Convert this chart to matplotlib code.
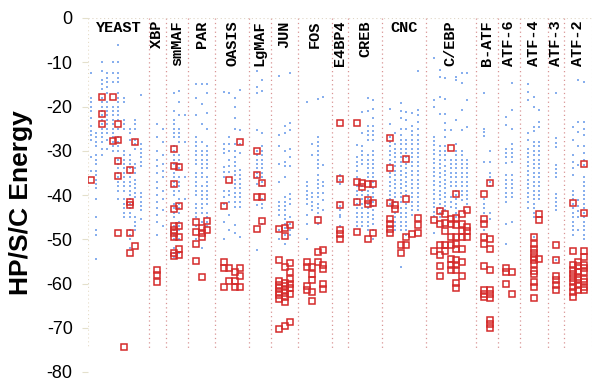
import matplotlib.pyplot as plt

# families along x, with the number of sequence columns each one takes
families = ["YEAST", "XBP", "smMAF", "PAR", "OASIS", "LgMAF", "JUN", "FOS",
            "E4BP4", "CREB", "CNC", "C/EBP", "B-ATF", "ATF-6", "ATF-4",
            "ATF-3", "ATF-2"]
slots = [11, 3, 4, 5, 6, 4, 5, 6, 3, 6, 8, 9, 4, 4, 5, 3, 5]
flat_labels = ["YEAST", "CNC"]
yticks = [0, -10, -20, -30, -40, -50, -60, -70, -80]

# HP/S/C energies, one list per sequence column
yeast_blue = [
    [-12.5, -18, -19, -20, -21, -22.5, -24.5, -25.5, -26.5, -27.5, -31.5, -34.5],
    [-26, -27, -28, -29, -31, -32, -33, -34.5, -35.5, -36.5, -37.5, -38.5, -41, -45, -48, -49, -54.5],
    [-10, -12, -14, -15, -16, -18, -19, -20, -21, -22, -23, -24, -25, -26, -27, -28, -29.5, -31],
    [-12.5, -13.5, -14.5, -15.5, -17, -19, -20, -21, -22, -23, -24, -25, -26, -27.5, -29.5],
    [-10, -12.5, -14.5, -20, -21, -22, -23, -24, -25, -26, -27, -28, -29, -30],
    [-6, -10, -12.5, -13.5, -14.5, -17, -18, -19, -20, -21, -22, -23, -25, -27, -28, -29, -30,
     -32, -33, -34, -35, -36, -37, -38, -39, -41],
    [-18, -19, -23, -24, -25, -30, -31, -32, -33, -34, -35, -36, -37, -38, -39, -41, -42, -43, -44, -45],
    [-25, -26, -27.5, -31, -32, -33, -34, -35, -36, -37, -38, -39, -40, -41, -42, -43, -44, -45,
     -48, -49, -50, -52],
    [-23, -24, -25, -27.5, -28.5, -29.5, -33, -34, -35, -36.5, -37.5, -38.5, -39.5, -40.5, -45, -46, -47, -48],
    [-17.5, -28.5, -29.5, -30.5, -31.5, -32.5, -33.5, -39.5, -40.5, -41.5, -42.5, -43.5, -45.5],
    [],
]
yeast_red = [[-36.7], [], [-17.8, -21.6, -24], [], [-17.8, -27.8],
             [-24, -27.6, -32.3, -35.7, -48.7], [-74.4],
             [-34.4, -41.5, -42.2, -48.7, -53.1], [-28.1, -51.6], [], []]

xbp_blue = [[],
            [-24, -27, -30, -32, -33.5, -35, -37, -38.5, -40, -41.5, -43, -44.5, -46, -49],
            [-25, -28, -31, -33, -34.5, -36, -39, -41, -43.5, -47]]
xbp_red = [[], [-57, -58.1, -59.7], []]

smmaf_blue = [[],
              [-17, -21, -23, -24, -25, -26, -27, -29, -30, -31, -32, -33, -35, -36, -37, -38, -39, -40,
               -42, -43, -44, -45, -47, -48, -49, -50, -52, -53, -54],
              [-16.5, -19, -22, -25, -26, -27, -28, -31, -32, -33, -34, -36, -37, -38, -39, -41, -42,
               -43, -44, -46, -47, -48, -50, -53],
              [-22, -28, -36, -41]]
smmaf_red = [[], [-29.6, -33.5, -37.6, -43.2, -47, -47.8, -48.6, -49.5, -53, -53.8],
             [-33.7, -42.5, -47.1, -49.4, -52.1, -53.6], []]

par_blue = [[],
            [-15, -18, -22, -27, -28, -29, -30, -31, -32, -33, -35, -36, -37, -38, -39, -40, -42, -43,
             -44, -45, -47, -50],
            [-15, -19.5, -24, -28, -30, -31, -32, -33, -34, -35, -36, -38, -39, -40, -41, -42, -43,
             -44, -46, -52],
            [-15, -17, -21.5, -25, -29, -30, -31, -32, -33, -34, -36, -37, -38, -39, -40, -41, -42,
             -44, -45, -46, -47],
            []]
par_red = [[], [-46, -48.4, -51, -55], [-47.5, -48.6, -49.6, -58.5], [-45.8, -47.9], []]

oasis_blue = [[],
              [-16.7, -28.4, -29.5, -30.6, -33.7, -34.8, -35.9, -39, -40.5, -42, -46, -50],
              [-17, -26.8, -28.5, -30, -32.2, -33.5, -34.8, -39, -40, -41.5, -44.6, -48],
              [-18, -20, -22.7, -25, -28.4, -30, -31.5, -32.5, -33.5, -34.5, -35.5, -36.5, -37.5,
               -38.5, -39.5, -40.5, -41.5, -42.7, -46.8, -48.7],
              [-16.3, -25.4, -28.4, -30.6, -34.4, -35.4, -36.4, -37.5, -38.5, -39.5, -40.5, -41.5,
               -42.7, -49.5],
              []]
oasis_red = [[], [-42.5, -55.2, -56.5, -60.9], [-36.7, -56.5, -59.4], [-57.3, -59.5, -60.9],
             [-28, -56.5, -58.2, -60.9], []]

lgmaf_blue = [[],
              [-12, -15.5, -17, -25.4, -30, -31, -32, -33, -34, -35, -36, -37.5, -42.3, -52.5],
              [-14, -16.5, -26, -29, -30, -31, -32, -33, -34, -35, -36, -37, -38, -41, -42, -43, -46.5],
              []]
lgmaf_red = [[], [-30, -35.4, -40.4, -47.6], [-37.4, -40.4, -45.9], []]

jun_blue = [[],
            [-13, -26.5, -29, -33, -37, -41.5, -42.5, -43.5, -44.5, -48, -50],
            [-24.5, -26, -30, -32.5, -33.5, -36, -40.5, -41.5, -42.5, -43.5, -44.5, -45.5, -46.5,
             -47.5, -49, -51],
            [-12.5, -23.8, -25.3, -29.5, -31.5, -33.5, -39.8, -41, -42, -45, -46.5, -48, -49],
            []]
jun_red = [[],
           [-47.6, -54.7, -59.5, -60.3, -61.1, -61.9, -62.7, -63.5, -70.3],
           [-47.5, -49.2, -56.3, -59.8, -60.6, -61.4, -62.2, -63, -64.2, -69.6],
           [-46.8, -55.3, -57.5, -59, -60, -61, -62.4, -68.6],
           []]

fos_blue = [[],
            [-19, -37, -38, -39, -40, -41, -42, -44.5, -46.5, -50],
            [-28.4, -31, -39.5, -40.5, -41.5, -42.5, -43.5],
            [-18.2, -27, -28, -29, -30, -31, -32, -33, -34, -35.5, -36.5, -37.5, -38.5, -39.5, -40.5,
             -42, -43, -44, -45, -46.5],
            [-17.8, -33.3, -37, -38, -39.5, -41.2, -43.5],
            []]
fos_red = [[], [-55.2, -56.3, -60.5, -61.4], [-56.3, -57.8, -59.3, -62, -64], [-45.7, -52.9, -55.2],
           [-52.5, -55.9, -56.7, -60.1, -61.2], []]

e4bp4_blue = [[], [-35.5, -36.5, -37.5, -41.5, -42.5, -43.5, -44.5, -45, -47], []]
e4bp4_red = [[], [-23.8, -36.4, -42.3, -48, -48.9, -49.9], []]

creb_blue = [[],
             [-28.7, -31.5, -32.5, -33.5, -34.5, -35.9, -38, -39, -40, -41, -42, -43, -44, -45, -46, -47],
             [-21.2, -26, -29, -30, -31, -32, -33, -38, -39, -40, -41, -42, -43, -44, -45, -46, -47],
             [-18, -21, -24.5, -25.5, -26.5, -27.5, -31, -32, -33, -34, -35, -36, -39, -40, -41, -42,
              -43, -44, -45, -46, -47, -48],
             [-18.5, -20.5, -22.5, -24.5, -25.5, -26.5, -27.5, -30, -31, -32, -33, -34, -35, -36, -37,
              -38.5, -39.5, -40.5, -41.5, -42.5, -43.5, -44.5, -45.5, -46.5, -48, -50],
             []]
creb_red = [[], [-23.7, -37, -41.6, -48.4], [-37.3, -38.2], [-37.6, -41.2, -42, -49.9],
            [-37.6, -41.8, -48.6], []]

cnc_blue = [[],
            [-20.5, -24, -27, -28, -29, -30, -31, -32, -33, -35, -36, -37, -38, -39, -40, -41, -42],
            [-26, -28.5, -29.5, -30.5, -31.5, -32.5, -33.5, -34.5, -35.5, -36.5, -37.5, -38.5, -39.5,
             -40.5, -41.5, -44, -45, -46, -47, -48],
            [-19.3, -21, -22.5, -25, -26.5, -27.5, -28.5, -29.5, -30.5, -31.5, -32.5, -33.5, -34.5,
             -35.5, -36.5, -37.5, -38.5, -39.5, -40.5, -41.5, -43, -44, -45, -46, -47, -48, -56.3],
            [-21.2, -23, -25, -27.5, -28.5, -29.5, -30.5, -31.5, -33, -34, -35, -36, -37, -38, -39,
             -40, -42, -43, -44, -45, -46, -47, -48, -49],
            [-21.5, -24.5, -25.5, -26.5, -27.5, -28.5, -29.5, -30.5, -31.5, -32.5, -33.5, -34.5,
             -35.5, -36.5, -37.5, -38.5, -39.5, -40.5, -41.5, -42.5, -43.5, -44.5],
            [-12, -20.7, -22, -23.5, -25, -26.5, -27.5, -28.5, -29.5, -30.5, -31.5, -32.5, -33.5,
             -34.5, -35.5, -36.5, -37.5, -38.5, -39.5, -40.5, -41.5, -42.5, -43.5],
            []]
cnc_red = [[], [-27.2, -34, -41.9, -45.5, -46.5, -47.6, -48.7], [-42.3, -43.1], [-51.2, -53.2],
           [-31.8, -41, -49.5, -51.2], [-48.9], [-45.3, -46.8, -48.7], []]

cebp_blue = [[],
             [-9, -18.5, -20, -26.8, -27.8, -28.8, -29.8, -30.8, -31.8, -32.8, -33.8, -34.8, -35.8,
              -36.8, -37.8, -38.8, -39.8, -40.8, -41.8, -42.8, -43.8, -44.8, -48.7],
             [-11.8, -13.3, -17.8, -21.6, -29, -30, -31, -32, -33, -34, -35, -36, -37, -38, -39, -40,
              -41, -42, -43, -44, -45],
             [-13.6, -18.2, -21.6, -23.8, -25.3, -26.8, -29, -30, -31, -32, -33.5, -34.5, -35.5, -36.5,
              -37.5, -38.5, -39.5, -40.5, -41.5, -42.5, -43.5],
             [-25.3, -32, -33, -34, -35, -36, -37, -38, -40.5, -41.5, -42.7],
             [-13.3, -14, -23, -28.4, -30, -31, -32, -33, -34, -35, -36, -37, -38, -39, -40, -41, -42,
              -43, -44, -45],
             [-12.5, -14.8, -20.8, -25.3, -30, -31, -32, -33, -34, -35, -36, -37, -38, -39, -40, -41.2],
             [-12.5, -18.5, -24.6, -32, -33, -34, -35, -36, -37, -38, -39, -40, -41, -42],
             []]
cebp_red = [[], [-45.7, -52.6], [-43.6, -46.5, -51.4, -53.6, -56.1, -58.4],
            [-44.2, -46.3, -48.1, -51.4, -52.6],
            [-29.3, -45.5, -46.6, -49.5, -51.4, -54.4, -55.9, -57],
            [-39.7, -45.1, -46.8, -49.5, -51, -52.3, -54.8, -55.9, -56.9, -59.9, -61],
            [-44.2, -46.5, -48.1, -49.5, -52.3, -55.1, -58.4],
            [-43.3, -47.2, -48.2, -49.5], []]

batf_blue = [[], [-16.9, -25, -25.8, -26.7, -32.5, -41, -42, -43, -44, -48],
             [-30, -32.5, -35, -36, -37, -38, -44, -45.5], []]
batf_red = [[], [-39.7, -45.5, -46.6, -49.5, -51, -56.1, -61.5, -62.3, -63],
            [-37.4, -50, -52.3, -56.9, -61.5, -62.4, -63.2, -68.2, -69.1, -70], []]

atf6_blue = [[],
             [-22.3, -24.2, -29.5, -30.5, -31.5, -32.7, -35.5, -36.5, -37.5, -38.5, -39.5, -40.5,
              -41.5, -46.5, -51],
             [-14.8, -20.8, -25, -28.5, -29.5, -30.5, -31.5, -32.5, -35.5, -36.5, -37.5, -38.5,
              -39.5, -40.5, -46],
             []]
atf6_red = [[], [-56.5, -57.4, -60], [-57.3, -62.3], []]

atf4_blue = [[],
             [-15, -16.7, -18.5, -26, -27.5, -29.5, -30.5, -31.5, -32.5, -33.5, -34.5, -35.5, -36.5,
              -37.5, -38.5, -39.5, -40.5, -41.5, -43],
             [-17.8, -20.1, -24.6, -25.5, -28, -29, -30, -31, -32, -33, -34, -35, -36, -37, -38, -39,
              -40, -41, -42, -43, -44, -45, -49.5],
             [-20.8, -23.4, -24.6, -28, -29, -30, -31, -32, -33, -34, -35, -36, -37, -38, -39, -40, -41],
             []]
atf4_red = [[], [],
            [-49.5, -51, -52.1, -53.2, -53.9, -54.7, -55.5, -57.2, -57.8, -59.6, -60.8, -63.2],
            [-44.2, -45.7, -54.4], []]

atf3_blue = [[], [-17, -27.2, -28.2, -29.1, -33.3, -34.2, -35.1, -36, -39.7, -40.6, -41.5, -42.5,
                  -43.5, -54.8], []]
atf3_red = [[], [-51.4, -54.8, -58.4, -59.3, -60.4, -61.5], []]

atf2_blue = [[],
             [-24.6, -27.6, -31, -32.5, -34, -35.5, -39, -40, -41, -42, -43, -44, -45, -46, -47, -48, -49],
             [-14, -23.5, -25.7, -29, -33.3, -41.2, -42.5, -43.7, -45, -48],
             [-14.4, -23.5, -25, -26.5, -29, -30.5, -32, -33.3, -36, -37, -38, -39, -40, -41, -42,
              -43, -44, -45, -46, -47, -48, -49, -50],
             []]
atf2_red = [[], [-41.8, -52.6, -55.9, -56.9, -57.8, -58.7, -59.6, -60.8, -61.9, -63],
            [-55.1, -56.1, -57.4, -58.5, -59.3, -60.4, -61.5],
            [-33, -44, -52.6, -53.9, -55.9, -56.6, -57.4, -58.9, -59.6, -60.8, -61.5], []]

blue_groups = [yeast_blue, xbp_blue, smmaf_blue, par_blue, oasis_blue, lgmaf_blue, jun_blue,
               fos_blue, e4bp4_blue, creb_blue, cnc_blue, cebp_blue, batf_blue, atf6_blue,
               atf4_blue, atf3_blue, atf2_blue]
red_groups = [yeast_red, xbp_red, smmaf_red, par_red, oasis_red, lgmaf_red, jun_red,
              fos_red, e4bp4_red, creb_red, cnc_red, cebp_red, batf_red, atf6_red,
              atf4_red, atf3_red, atf2_red]

fig = plt.figure(figsize=(5.93, 3.81), dpi=100)
ax = fig.add_axes([88 / 593, 9 / 381, 504 / 593, 354 / 381])

bx, by, rx, ry = [], [], [], []
starts = []
start = 0
for n, blues, reds in zip(slots, blue_groups, red_groups):
    starts.append(start)
    for k, col in enumerate(blues):
        bx += [start + k + 0.5] * len(col)
        by += col
    for k, col in enumerate(reds):
        rx += [start + k + 0.5] * len(col)
        ry += col
    start += n
total = start

ax.scatter(bx, by, s=3.6, marker='s', color='#88afee', linewidths=0, zorder=2)
ax.plot(rx, ry, 's', ms=4.6, mfc='none', mec='#d42a2a', mew=1.1, zorder=3)

# dotted family separators
for b in starts[1:]:
    ax.plot([b, b], [0, -74.5], color='#d99494', lw=0.9, ls=(0, (1, 2.5)), zorder=1)
for b in [0, total]:
    ax.plot([b, b], [0, -74.5], color='#e6dcc8', lw=0.8, ls=(0, (1, 2.5)), zorder=1)
ax.plot([0, total], [0, 0], color='#e0d6c6', lw=0.8, ls=(0, (1, 2.5)), zorder=1)

# family names
for name, s, n in zip(families, starts, slots):
    rot = 0 if name in flat_labels else 90
    ax.text(s + n / 2, -0.6, name, rotation=rot, ha='center', va='top',
            family='Liberation Mono', fontweight='bold', fontsize=11)

ax.set_xlim(0, total)
ax.set_ylim(-80, 0)
ax.set_xticks([])
ax.set_yticks(yticks)
ax.set_yticklabels([str(t) for t in yticks], family='Liberation Sans', fontsize=13)
ax.tick_params(axis='y', length=4, width=0.8, color='#e4e0cc', pad=7)
for sp in ax.spines.values():
    sp.set_visible(False)

fig.text(0.036, 0.468, "HP/S/C Energy", rotation=90, ha='center', va='center',
         family='Liberation Sans', fontweight='bold', fontsize=19)

fig.savefig("out.png", dpi=100)
